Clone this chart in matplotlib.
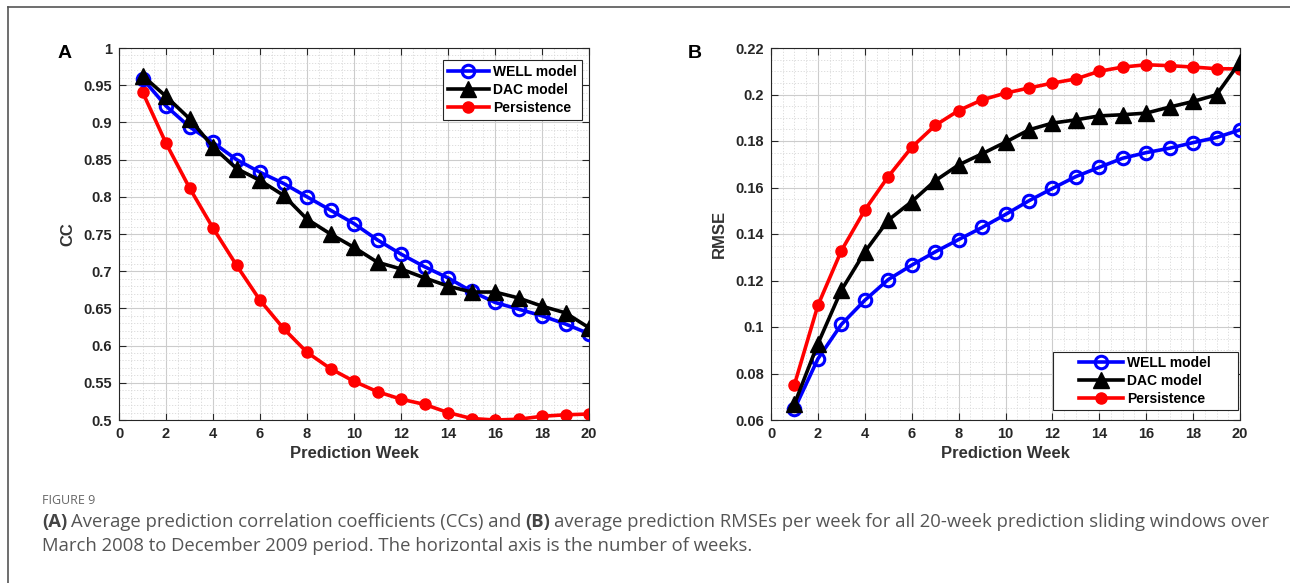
import matplotlib.pyplot as plt
from matplotlib.lines import Line2D
from matplotlib.patches import Rectangle
from matplotlib.ticker import MultipleLocator

# data
weeks = list(range(1, 21))

cc_well = [0.959, 0.922, 0.894, 0.873, 0.850, 0.833, 0.818, 0.800, 0.782, 0.764,
           0.742, 0.723, 0.706, 0.691, 0.673, 0.658, 0.649, 0.640, 0.629, 0.616]
cc_dac = [0.963, 0.935, 0.905, 0.867, 0.838, 0.822, 0.802, 0.770, 0.750, 0.732,
          0.712, 0.703, 0.691, 0.680, 0.672, 0.672, 0.664, 0.653, 0.644, 0.624]
cc_pers = [0.941, 0.872, 0.812, 0.758, 0.708, 0.661, 0.623, 0.591, 0.569, 0.552,
           0.538, 0.528, 0.521, 0.510, 0.502, 0.500, 0.501, 0.505, 0.507, 0.508]

rmse_well = [0.0647, 0.0863, 0.1011, 0.1115, 0.1204, 0.1266, 0.1323, 0.1376, 0.1428, 0.1484,
             0.1543, 0.1596, 0.1647, 0.1687, 0.1726, 0.1750, 0.1769, 0.1793, 0.1815, 0.1848]
rmse_dac = [0.0669, 0.0928, 0.1158, 0.1323, 0.1460, 0.1539, 0.1629, 0.1697, 0.1745, 0.1795,
            0.1848, 0.1877, 0.1891, 0.1908, 0.1913, 0.1920, 0.1946, 0.1970, 0.1999, 0.2140]
rmse_pers = [0.0752, 0.1093, 0.1328, 0.1503, 0.1647, 0.1773, 0.1867, 0.1931, 0.1977, 0.2006,
             0.2028, 0.2049, 0.2067, 0.2100, 0.2118, 0.2128, 0.2124, 0.2118, 0.2111, 0.2110]

labels = ["WELL model", "DAC model", "Persistence"]

plt.rcParams['font.family'] = ['Liberation Sans', 'DejaVu Sans']

fig = plt.figure(figsize=(12.9, 5.83), dpi=100)
W, H = 1290, 583

# page frame (top and left edge)
fig.add_artist(Line2D([8 / W, 1], [1 - 7 / H, 1 - 7 / H], color='#555555', lw=1.2))
fig.add_artist(Line2D([8 / W, 8 / W], [0, 1 - 7 / H], color='#555555', lw=1.2))


def fmt_trim(v, pos):
    return f"{v:.2f}".rstrip('0').rstrip('.')


def draw_panel(ax, well, dac, pers, ylim, ymajor, yminor, ylabel):
    ax.plot(weeks, well, color='#0000ff', lw=2.6, marker='o', ms=9, mfc='none', mew=2.2, label=labels[0], zorder=3)
    ax.plot(weeks, dac, color='black', lw=2.6, marker='^', ms=11, mfc='black', label=labels[1], zorder=4)
    ax.plot(weeks, pers, color='#ff0000', lw=2.6, marker='o', ms=8, mfc='#ff0000', label=labels[2], zorder=2)
    ax.set_xlim(0, 20)
    ax.set_ylim(*ylim)
    ax.xaxis.set_major_locator(MultipleLocator(2))
    ax.xaxis.set_minor_locator(MultipleLocator(0.5))
    ax.yaxis.set_major_locator(MultipleLocator(ymajor))
    ax.yaxis.set_minor_locator(MultipleLocator(yminor))
    ax.yaxis.set_major_formatter(fmt_trim)
    ax.grid(which='major', color='#cccccc', lw=0.8)
    ax.grid(which='minor', color='#d8d8d8', lw=0.6, ls=(0, (1.5, 2)))
    ax.set_axisbelow(True)
    ax.tick_params(which='both', direction='in', top=True, right=True, colors='#262626',
                   labelsize=10.5, pad=5)
    ax.tick_params(which='minor', length=0)
    ax.tick_params(which='major', length=5)
    for lab in ax.get_xticklabels() + ax.get_yticklabels():
        lab.set_fontweight('bold')
    for s in ax.spines.values():
        s.set_color('#262626')
        s.set_linewidth(0.8)
    ax.set_xlabel("Prediction Week", fontsize=12, fontweight='bold', color='#333333', labelpad=4)
    ax.set_ylabel(ylabel, fontsize=12, fontweight='bold', color='#333333', labelpad=6)


axA = fig.add_axes([119 / W, 1 - 420 / H, 470 / W, 372 / H])
draw_panel(axA, cc_well, cc_dac, cc_pers, (0.5, 1.0), 0.05, 0.01, "CC")
legA = axA.legend(loc='upper right', bbox_to_anchor=(582 / W, 1 - 60 / H), bbox_transform=fig.transFigure,
                  prop={'weight': 'bold', 'size': 10},
                  fancybox=False, edgecolor='#262626', framealpha=1, handlelength=3.0,
                  handletextpad=0.3, borderpad=0.35, labelspacing=0.3, borderaxespad=0)
legA.get_frame().set_linewidth(0.8)

axB = fig.add_axes([771 / W, 1 - 420 / H, 469 / W, 372 / H])
draw_panel(axB, rmse_well, rmse_dac, rmse_pers, (0.06, 0.22), 0.02, 0.005, "RMSE")
# MATLAB-style wide legend box: frame drawn separately, entries centred in it
axB.add_patch(Rectangle((1053 / W, 1 - 410 / H), 185 / W, 58 / H, transform=fig.transFigure,
                        facecolor='white', edgecolor='#262626', lw=0.8, zorder=4.5, clip_on=False))
axB.legend(loc='center', bbox_to_anchor=(1145 / W, 1 - 381 / H), bbox_transform=fig.transFigure,
           prop={'weight': 'bold', 'size': 10}, frameon=False, handlelength=3.2,
           handletextpad=0.3, borderpad=0.2, labelspacing=0.3)

fig.text(58 / W, 1 - 53 / H, "A", fontsize=14, fontweight='bold', va='center')
fig.text(688 / W, 1 - 53 / H, "B", fontsize=14, fontweight='bold', va='center')

# caption
cap_font = ['Open Sans', 'DejaVu Sans']
fig.text(42 / W, 1 - 501 / H, "FIGURE 9", fontsize=9, color='#666666', va='center', family=cap_font)

renderer = fig.canvas.get_renderer()


def caption_line(parts, y, x0=42):
    x = x0
    for txt, bold in parts:
        t = fig.text(x / W, 1 - y / H, txt, fontsize=13.3, va='center', family=cap_font,
                     fontweight='bold' if bold else 'normal',
                     color='#444444' if bold else '#555555')
        x = t.get_window_extent(renderer).x1 + 4


caption_line([("(A)", True),
              ("Average prediction correlation coefficients (CCs) and", False),
              ("(B)", True),
              ("average prediction RMSEs per week for all 20-week prediction sliding windows over", False)], 522)
caption_line([("March 2008 to December 2009 period. The horizontal axis is the number of weeks.", False)], 546)

fig.savefig("out.png", dpi=100)
